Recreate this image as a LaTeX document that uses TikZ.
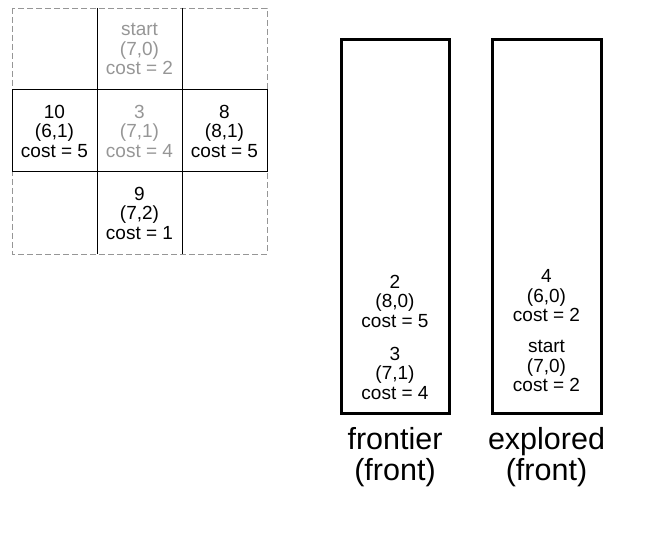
\documentclass[tikz,border=0pt]{standalone}
\usepackage{fontspec}
\setmainfont{Liberation Sans}
\definecolor{lightgr}{RGB}{150,150,150}
\begin{document}
\begin{tikzpicture}[x=1pt,y=-1pt,
  celltext/.style={align=center,font=\fontsize{19}{19.5}\selectfont,inner sep=0pt},
  faded/.style={celltext,text=lightgr},
  stackbox/.style={draw=black,line width=3pt},
  stacklabel/.style={align=center,font=\fontsize{30.5}{31.5}\selectfont,inner sep=0pt}]
\useasboundingbox (0,0) rectangle (670,540);
% grid
\draw[lightgr,dashed,dash pattern=on 6pt off 3pt,line width=0.8pt] (12,8) rectangle (267,254);
\draw[black,line width=1pt] (12,90) rectangle (267,172);
\draw[black,line width=1pt] (97,8) -- (97,254);
\draw[black,line width=1pt] (182,8) -- (182,254);
\node[faded] (c70) at (139.5,49) {start\\(7,0)\\cost = 2};
\node[celltext] (c61) at (54.5,131) {10\\(6,1)\\cost = 5};
\node[faded] (c71) at (139.5,131) {3\\(7,1)\\cost = 4};
\node[celltext] (c81) at (224.5,131) {8\\(8,1)\\cost = 5};
\node[celltext] (c72) at (139.5,213) {9\\(7,2)\\cost = 1};
% stacks
\draw[stackbox] (341,40) rectangle (449,413);
\draw[stackbox] (492,40) rectangle (601,413);
\node[celltext] (f1) at (395,301) {2\\(8,0)\\cost = 5};
\node[celltext] (f2) at (395,373) {3\\(7,1)\\cost = 4};
\node[celltext] (e1) at (546.5,296) {4\\(6,0)\\cost = 2};
\node[celltext] (e2) at (546.5,366) {start\\(7,0)\\cost = 2};
\node[stacklabel] (fl) at (395,457) {frontier\\(front)};
\node[stacklabel] (el) at (546.5,457) {explored\\(front)};
\end{tikzpicture}
\end{document}
